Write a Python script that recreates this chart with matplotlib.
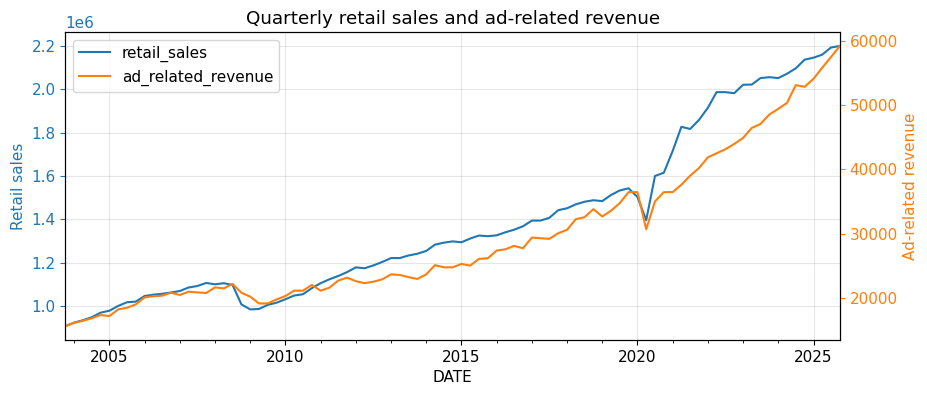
import pandas as pd
import matplotlib
matplotlib.use('Agg')
import matplotlib.pyplot as plt
import matplotlib.dates as mdates

plt.rcParams['font.size'] = 11

# quarterly data, 2003 Q4 - 2025 Q4
start_date = '2003-10-01'

retail_sales = [
    0.907, 0.923, 0.934, 0.948, 0.969, 0.978, 1.000, 1.017, 1.020, 1.046,
    1.052, 1.056, 1.062, 1.069, 1.085, 1.092, 1.106, 1.100, 1.105, 1.097,
    1.007, 0.984, 0.986, 1.005, 1.015, 1.031, 1.048, 1.054, 1.082, 1.105,
    1.123, 1.138, 1.156, 1.178, 1.174, 1.187, 1.203, 1.221, 1.221, 1.233,
    1.241, 1.254, 1.283, 1.292, 1.298, 1.294, 1.311, 1.325, 1.322, 1.326,
    1.340, 1.352, 1.368, 1.394, 1.394, 1.407, 1.442, 1.451, 1.469, 1.481,
    1.488, 1.484, 1.512, 1.533, 1.543, 1.503, 1.396, 1.600, 1.615, 1.716,
    1.827, 1.817, 1.859, 1.915, 1.987, 1.987, 1.982, 2.021, 2.022, 2.052,
    2.056, 2.052, 2.072, 2.097, 2.137, 2.146, 2.160, 2.193, 2.200,
]
retail_sales = [v * 1e6 for v in retail_sales]

ad_related_revenue = [
    15578, 16094, 16406, 16797, 17297, 17141, 18172, 18438, 18953, 20047,
    20234, 20313, 20781, 20422, 20938, 20828, 20734, 21609, 21453, 22141,
    20781, 20156, 19109, 19109, 19734, 20266, 21094, 21094, 21984, 21094,
    21563, 22656, 23125, 22578, 22266, 22500, 22859, 23641, 23547, 23203,
    22922, 23641, 25078, 24734, 24734, 25266, 25000, 26047, 26141, 27344,
    27547, 28078, 27703, 29375, 29266, 29172, 30047, 30578, 32234, 32547,
    33797, 32656, 33547, 34734, 36453, 36453, 30672, 35000, 36453, 36453,
    37609, 39016, 40203, 41875, 42500, 43125, 43953, 44891, 46453, 47078,
    48547, 49422, 50359, 53125, 52859, 54109, 55828, 57500, 59219,
]

dates = pd.date_range(start_date, periods=len(retail_sales), freq='QS')

fig, ax1 = plt.subplots(figsize=(9.28, 3.95), dpi=100)
ax2 = ax1.twinx()

l1, = ax1.plot(dates, retail_sales, color='tab:blue', label='retail_sales')
l2, = ax2.plot(dates, ad_related_revenue, color='tab:orange', label='ad_related_revenue')

ax1.set_xlim(dates[0], dates[-1])
ax1.xaxis.set_major_locator(mdates.YearLocator(5))
ax1.xaxis.set_minor_locator(mdates.YearLocator(1))
ax1.xaxis.set_major_formatter(mdates.DateFormatter('%Y'))

ax1.set_xlabel('DATE')
ax1.set_ylabel('Retail sales', color='tab:blue')
ax2.set_ylabel('Ad-related revenue', color='tab:orange')
ax1.tick_params(axis='y', colors='tab:blue')
ax1.yaxis.get_offset_text().set_color('tab:blue')
ax2.tick_params(axis='y', colors='tab:orange')
ax1.grid(True, alpha=0.3)

ax1.legend([l1, l2], [l1.get_label(), l2.get_label()], loc='upper left')
ax1.set_title('Quarterly retail sales and ad-related revenue')

plt.subplots_adjust(left=0.0704, right=0.905, top=0.919, bottom=0.139)
plt.savefig('out.png')
plt.close()
